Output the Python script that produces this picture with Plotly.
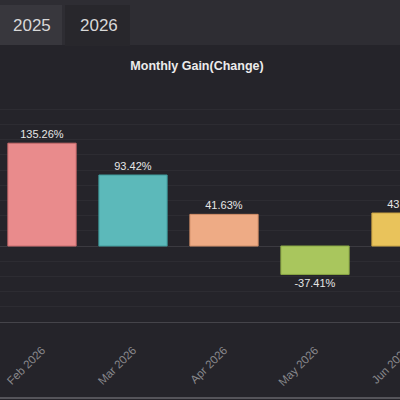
import plotly.graph_objects as go

# data
months = ["Feb 2026", "Mar 2026", "Apr 2026", "May 2026", "Jun 2026"]
gains = [135.26, 93.42, 41.63, -37.41, 43.38]
bar_colors = ["#e98b8c", "#5cb9ba", "#eeab85", "#a9c65d", "#e9c35b"]
edge_colors = ["#c96a6c", "#3f9a9b", "#cf8c66", "#8aa744", "#c9a343"]
tabs = ["2025", "2026"]

BG = "#25242a"
W, H = 440, 400          # figure is a bit wider than the window; the right edge is cut off
SLOT = 91                # px per month
PLOT_TOP, PLOT_BOTTOM = 94, 322


def py(y_px):
    # pixel row -> paper y
    return (PLOT_BOTTOM - y_px) / (PLOT_BOTTOM - PLOT_TOP)


fig = go.Figure()

fig.add_trace(go.Bar(
    x=months, y=gains,
    marker=dict(color=bar_colors, line=dict(color=edge_colors, width=1)),
    text=[f"{v:.2f}%" for v in gains],
    textposition="outside",
    textfont=dict(color="#e6e6e6", size=11, family="Arial"),
    cliponaxis=False,
    width=0.75,
))

# tab strip on top
shapes = [
    dict(type="rect", xref="paper", yref="paper", x0=0, x1=1, y0=py(45), y1=py(-2),
         fillcolor="#2e2d33", line_width=0, layer="below"),
    dict(type="rect", xref="paper", yref="paper", x0=0, x1=62 / W, y0=py(45), y1=py(5),
         fillcolor="#38373d", line_width=0, layer="below"),
    dict(type="rect", xref="paper", yref="paper", x0=65 / W, x1=130 / W, y0=py(46), y1=py(5),
         fillcolor="#28272c", line_width=0, layer="below"),
    dict(type="line", xref="paper", yref="paper", x0=0, x1=1, y0=py(398), y1=py(398),
         line=dict(color="#55545a", width=2)),
]
fig.update_layout(shapes=shapes)

for name, cx in zip(tabs, [32, 99]):
    fig.add_annotation(xref="paper", yref="paper", x=cx / W, y=py(25), text=name,
                       xanchor="center", yanchor="middle",
                       showarrow=False, font=dict(color="#d8d8d8", size=17, family="Arial"))

fig.update_layout(
    width=W, height=H,
    paper_bgcolor=BG, plot_bgcolor=BG,
    margin=dict(l=0, r=0, t=PLOT_TOP, b=H - PLOT_BOTTOM),
    showlegend=False,
    title=dict(text="<b>Monthly Gain(Change)</b>", x=197 / W, xanchor="center",
               y=1 - 66 / H, yanchor="middle", yref="container",
               font=dict(color="#ececec", size=12.5, family="Arial")),
    bargap=0.25,
)

x0 = -42 / SLOT
fig.update_xaxes(
    range=[x0, x0 + W / SLOT],
    tickangle=-45,
    tickfont=dict(color="#88888c", size=11.5, family="Arial"),
    showgrid=False,
    showline=True, linecolor="#45444a", linewidth=1,
    ticks="outside", ticklen=16, tickcolor="rgba(0,0,0,0)",
)
fig.update_yaxes(
    range=[-100, 200], dtick=20,
    showticklabels=False,
    gridcolor="#2d2c32", gridwidth=1,
    zeroline=True, zerolinecolor="#3b3a40", zerolinewidth=1,
)

fig.write_html("out.html", config={"displayModeBar": False},
               post_script="document.body.style.margin='0';document.body.style.overflow='hidden';")
